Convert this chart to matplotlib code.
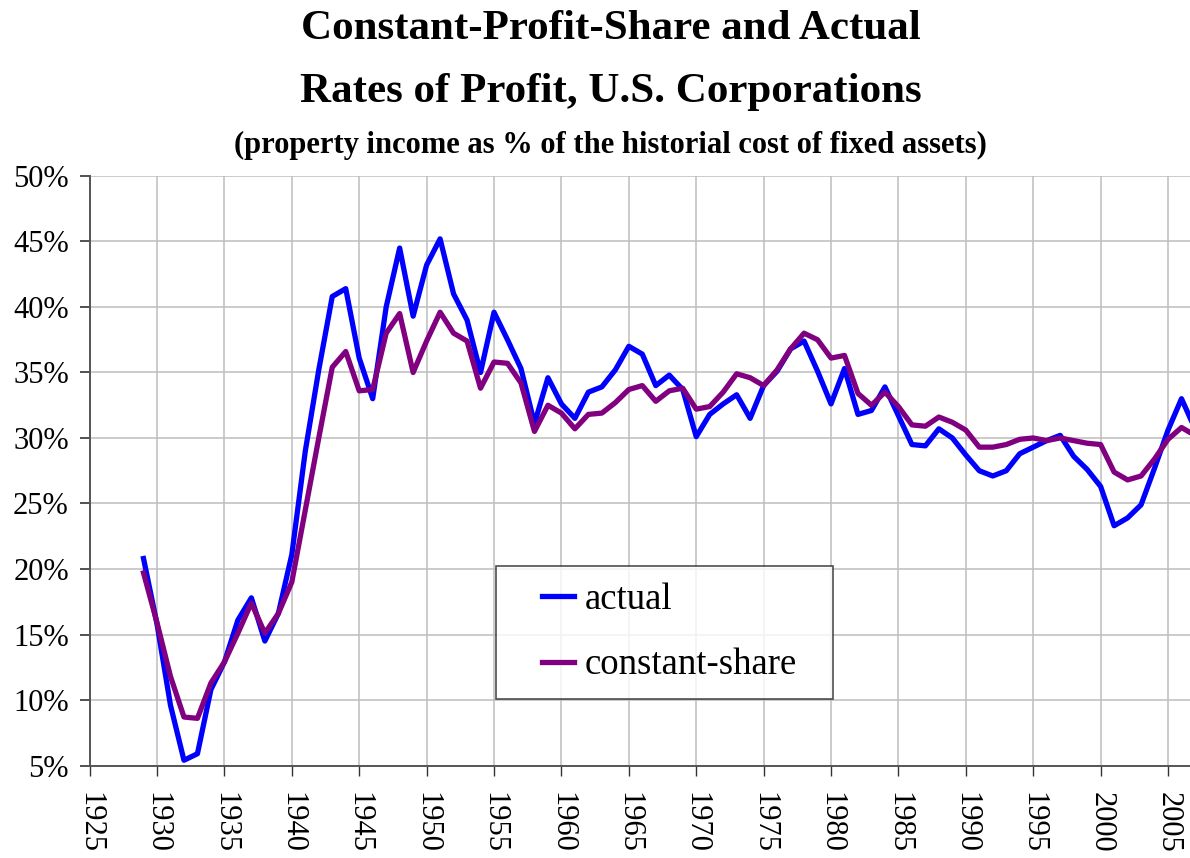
import matplotlib
matplotlib.use("Agg")
import matplotlib.pyplot as plt
from matplotlib.legend_handler import HandlerLine2D

# --- Datos ---
years = list(range(1929, 2008))

actual = [
    20.8, 15.8, 9.6, 5.4, 5.9, 10.8, 12.9, 16.1, 17.8, 14.5,   # 1929-1938
    16.6, 21.1, 29.0, 35.2, 40.8, 41.4, 36.1, 33.0, 40.0, 44.5,  # 1939-1948
    39.3, 43.2, 45.2, 41.0, 39.0, 35.0, 39.6, 37.5, 35.3, 31.1,  # 1949-1958
    34.6, 32.6, 31.5, 33.5, 33.9, 35.2, 37.0, 36.4, 34.0, 34.8,  # 1959-1968
    33.7, 30.1, 31.8, 32.6, 33.3, 31.5, 34.0, 35.1, 36.8, 37.4,  # 1969-1978
    35.1, 32.6, 35.3, 31.8, 32.1, 33.9, 31.7, 29.5, 29.4, 30.7,  # 1979-1988
    30.0, 28.7, 27.5, 27.1, 27.5, 28.8, 29.3, 29.8, 30.2, 28.6,  # 1989-1998
    27.6, 26.3, 23.3, 23.9, 24.9, 27.7, 30.6, 33.0, 30.7,        # 1999-2007
]

constant_share = [
    19.7, 15.9, 11.8, 8.7, 8.6, 11.3, 12.9, 15.1, 17.4, 15.1,
    16.6, 19.0, 24.5, 30.0, 35.4, 36.6, 33.6, 33.7, 38.0, 39.5,
    35.0, 37.4, 39.6, 38.0, 37.4, 33.8, 35.8, 35.7, 34.2, 30.5,
    32.5, 31.9, 30.7, 31.8, 31.9, 32.7, 33.7, 34.0, 32.8, 33.6,
    33.8, 32.2, 32.4, 33.5, 34.9, 34.6, 34.0, 35.2, 36.8, 38.0,
    37.5, 36.1, 36.3, 33.4, 32.5, 33.5, 32.4, 31.0, 30.9, 31.6,
    31.2, 30.6, 29.3, 29.3, 29.5, 29.9, 30.0, 29.8, 30.0, 29.8,
    29.6, 29.5, 27.4, 26.8, 27.1, 28.4, 29.9, 30.8, 30.2,
]

x_ticks = list(range(1925, 2006, 5))
y_ticks = list(range(5, 51, 5))


# Linea corta de la leyenda, pegada a la derecha de su caja
class ShortLine(HandlerLine2D):
    def get_xdata(self, legend, xdescent, ydescent, width, height, fontsize):
        seg = 0.87 * fontsize
        return [-xdescent + width - seg, -xdescent + width], [-xdescent + width - seg / 2]


plt.rcParams['font.family'] = ['Liberation Serif', 'DejaVu Serif']

fig = plt.figure(figsize=(11.9, 8.58), dpi=100)
ax = fig.add_axes([0.0753, 0.1078, 0.9247, 0.6871])

ax.plot(years, actual, color='#0000ff', lw=3.8, label='actual')
ax.plot(years, constant_share, color='#800080', lw=3.8, label='constant-share')

ax.set_xlim(1925, 2006.63)
ax.set_ylim(5, 50)
ax.set_xticks(x_ticks)
ax.set_yticks(y_ticks)
ax.set_yticklabels([f"{v}%" for v in y_ticks])
ax.set_xticklabels([str(v) for v in x_ticks], rotation=270)

ax.grid(True, color='#bdbdbd', lw=1.1)
ax.set_axisbelow(True)

for side in ['top', 'right']:
    ax.spines[side].set_visible(False)
for side in ['left', 'bottom']:
    ax.spines[side].set_color('#555555')
    ax.spines[side].set_linewidth(1.4)

ax.tick_params(axis='y', length=7, width=1.2, color='#333333', pad=8, labelsize=22)
ax.tick_params(axis='x', length=7, width=1.0, color='#333333', pad=12, labelsize=22)

# Titulos
fig.text(0.513, 0.966, "Constant-Profit-Share and Actual", ha='center', va='center',
         fontsize=31, fontweight='bold')
fig.text(0.513, 0.893, "Rates of Profit, U.S. Corporations", ha='center', va='center',
         fontsize=31, fontweight='bold')
fig.text(0.513, 0.831, "(property income as % of the historial cost of fixed assets)",
         ha='center', va='center', fontsize=22, fontweight='bold')

leg = ax.legend(loc='upper left', bbox_to_anchor=(0.3693, 0.1162, 0.3063, 0.2222),
                mode='expand', fontsize=26.5,
                frameon=True, fancybox=False, edgecolor='#222222',
                borderpad=0.45, handlelength=1.68, handletextpad=0.27,
                labelspacing=0.84, borderaxespad=0.0,
                handler_map={plt.Line2D: ShortLine()})
leg.get_frame().set_linewidth(1.2)

fig.savefig("out.png", dpi=100)
